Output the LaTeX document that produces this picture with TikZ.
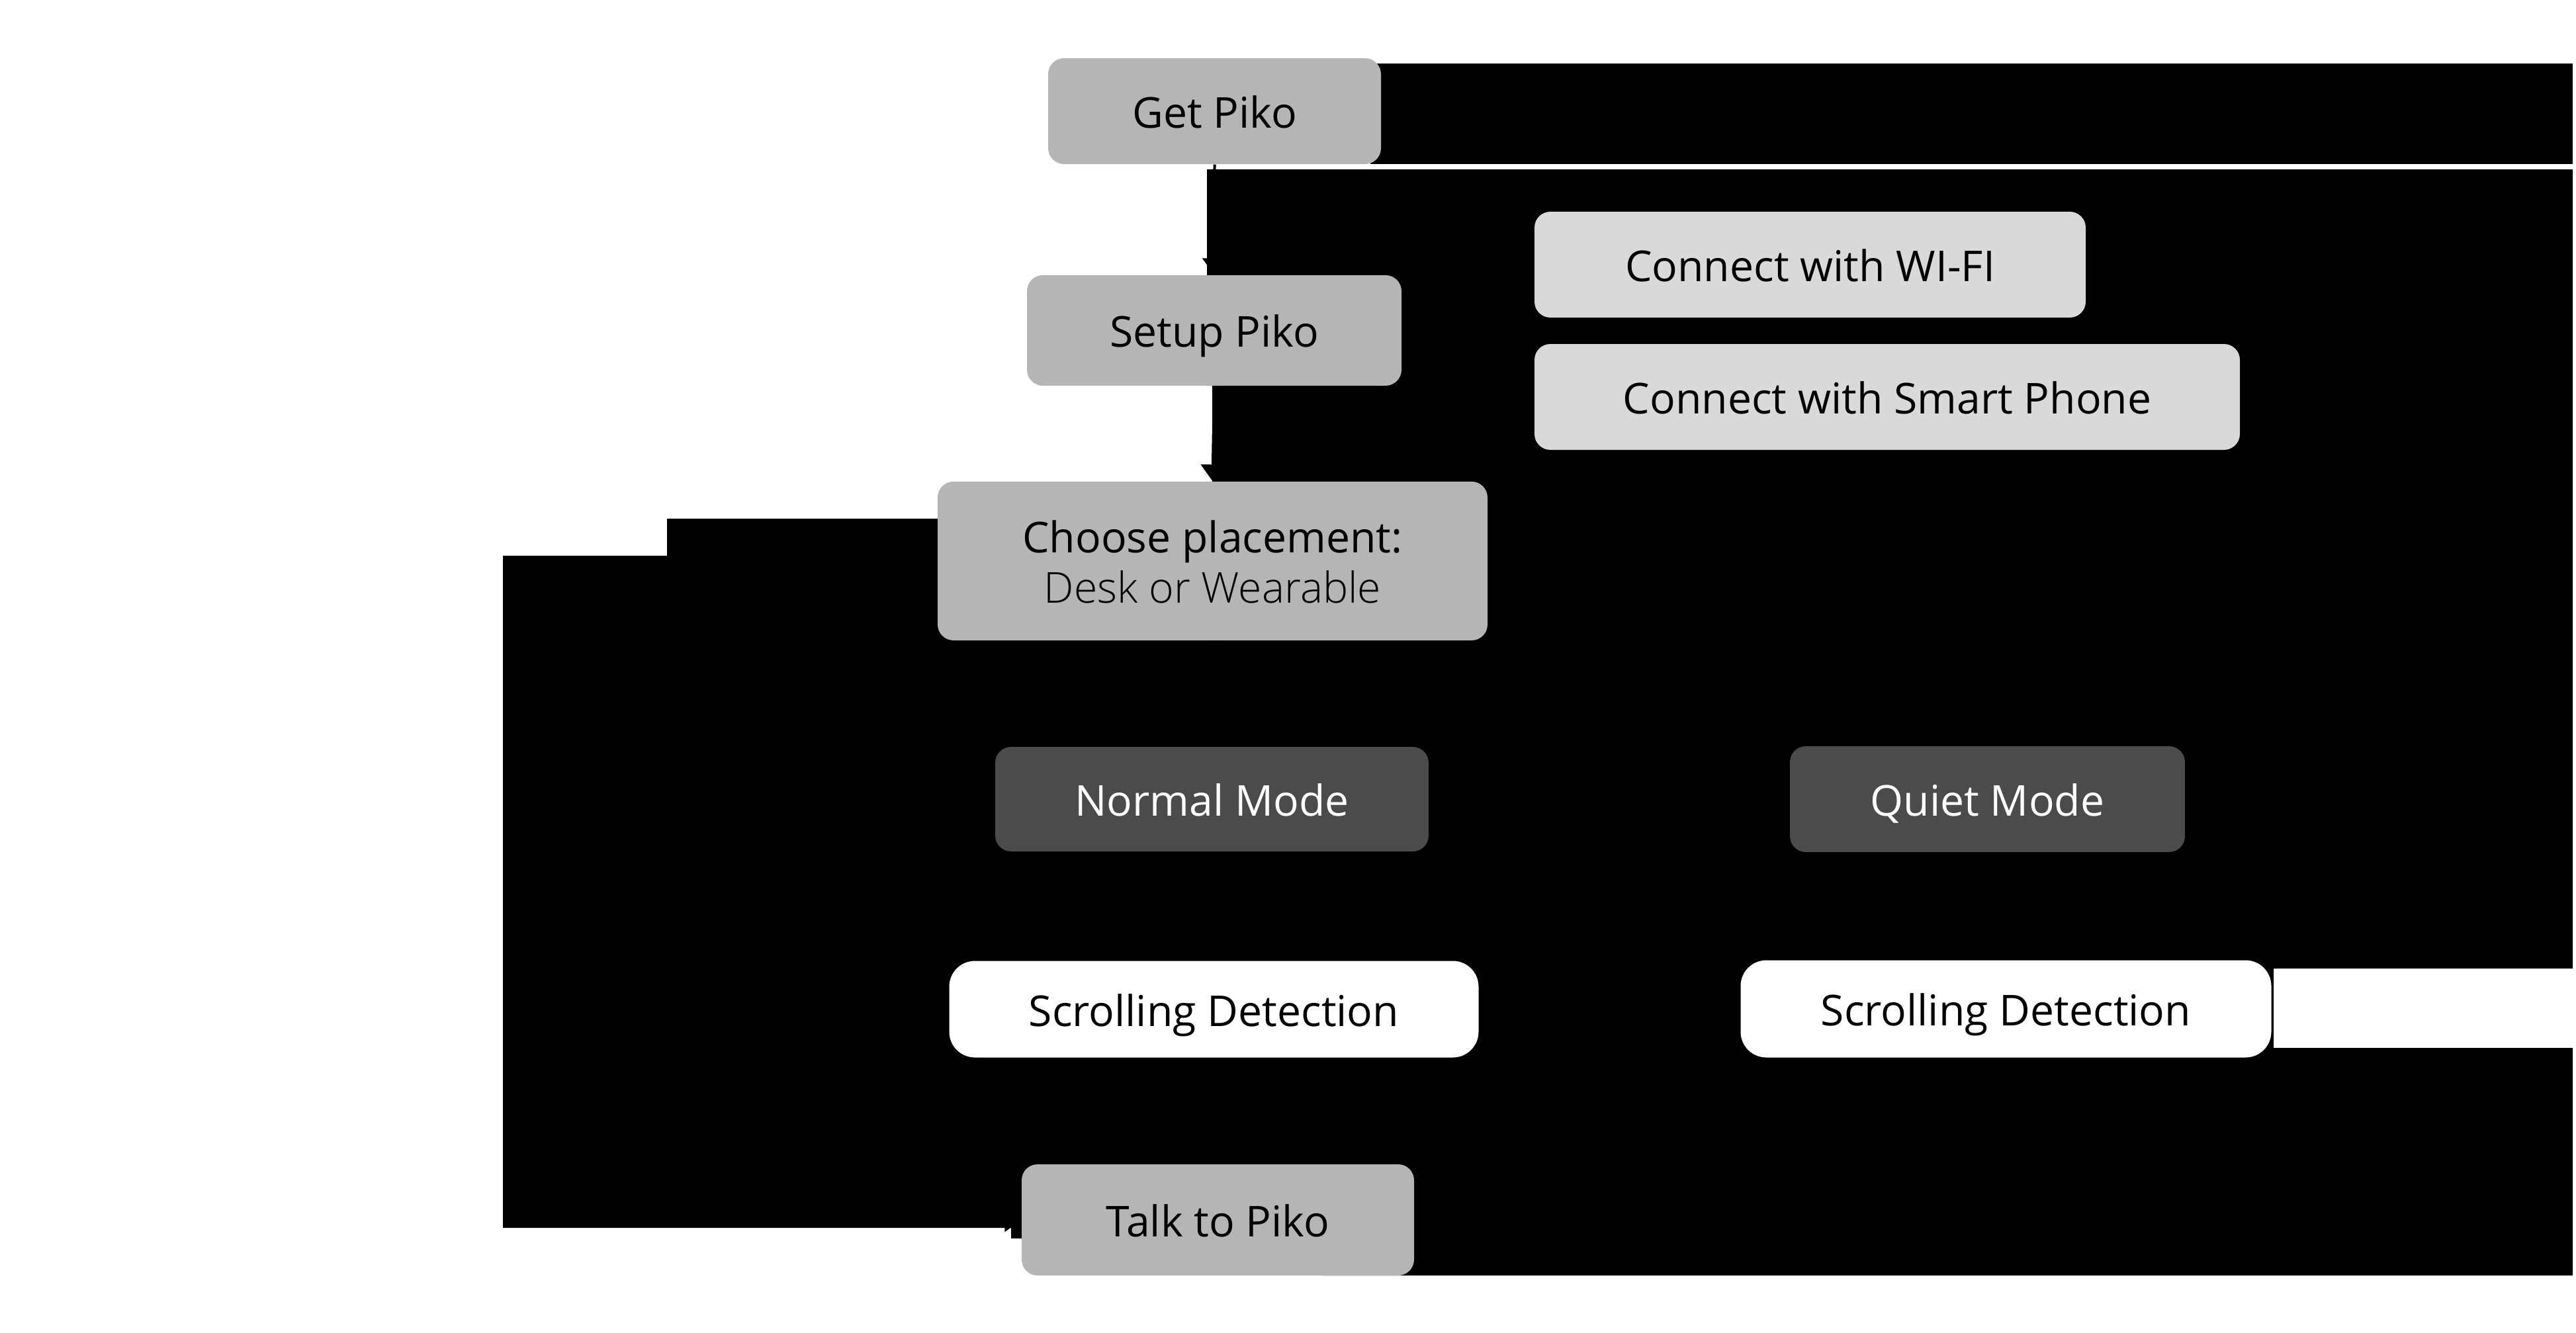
\documentclass[tikz,border=0pt]{standalone}
\usepackage{fontspec}
\setmainfont{Open Sans}
\newfontfamily\lightfont{Open Sans Light}
\usetikzlibrary{arrows.meta}
\definecolor{boxgray}{HTML}{B5B5B5}
\definecolor{boxlight}{HTML}{D9D9D9}
\definecolor{boxdark}{HTML}{4B4B4B}
\tikzset{
  flowbox/.style={rectangle, rounded corners=0.24cm, inner sep=0pt, align=center,
    font=\fontsize{18.3pt}{21.6pt}\selectfont, text height=14.5pt, text depth=0pt},
  graybox/.style={flowbox, fill=boxgray, text=black},
  lightbox/.style={flowbox, fill=boxlight, text=black},
  darkbox/.style={flowbox, fill=boxdark, text=white},
  whitebox/.style={flowbox, fill=white, draw=black, line width=0.03cm, rounded corners=0.4cm},
  link/.style={draw=black, line width=0.04cm, -{Triangle[length=0.25cm,width=0.36cm]}},
  blackfield/.style={fill=black, draw=none}
}
\begin{document}
\begin{tikzpicture}
\useasboundingbox (0,0) rectangle (38.93,-20.14);
\fill[white] (0,0) rectangle (38.93,-20.14);
% black field
\path[blackfield] (20.71,-0.96) rectangle (38.88,-2.48);
\path[blackfield] (18.24,-2.56) -- (38.88,-2.56) -- (38.88,-14.64) -- (34.36,-14.64)
  -- (34.36,-15.84) -- (38.88,-15.84) -- (38.88,-19.28) -- (20.00,-19.28)
  -- (20.00,-18.72) -- (15.28,-18.72) -- (15.28,-18.56) -- (7.60,-18.56)
  -- (7.60,-8.40) -- (10.08,-8.40) -- (10.08,-7.84) -- (14.40,-7.84)
  -- (14.40,-7.35) -- (18.32,-7.35) -- (18.32,-5.83) -- (18.24,-5.83) -- cycle;
% nodes
\node[graybox, minimum width=5.03cm, minimum height=1.60cm] (get) at (18.355,-1.68) {Get Piko};
\node[graybox, minimum width=5.66cm, minimum height=1.67cm] (setup) at (18.35,-4.995) {Setup Piko};
\node[lightbox, minimum width=8.33cm, minimum height=1.60cm] (wifi) at (27.355,-4.00) {Connect with WI-FI};
\node[lightbox, minimum width=10.66cm, minimum height=1.60cm] (phone) at (28.52,-6.00) {Connect with Smart Phone};
\node[graybox, minimum width=8.31cm, minimum height=2.40cm, text height=36pt] (choose) at (18.325,-8.48) {Choose placement:\\{\lightfont Desk or Wearable}};
\node[darkbox, minimum width=6.55cm, minimum height=1.58cm] (normal) at (18.315,-12.08) {Normal Mode};
\node[darkbox, minimum width=5.97cm, minimum height=1.60cm] (quiet) at (30.035,-12.08) {Quiet Mode};
\node[whitebox, minimum width=8.03cm, minimum height=1.49cm] (scrollL) at (18.345,-15.255) {Scrolling Detection};
\node[whitebox, minimum width=8.05cm, minimum height=1.50cm] (scrollR) at (30.315,-15.25) {Scrolling Detection};
\node[graybox, minimum width=5.93cm, minimum height=1.68cm] (talk) at (18.405,-18.44) {Talk to Piko};
% connectors
\draw[link] (get.south) -- (setup.north);
\draw[link] (setup.east) -- ++(1.0,0) |- (wifi.west);
\draw[link] (setup.east) -- ++(1.0,0) |- (phone.west);
\draw[link] (setup.south) -- (choose.north);
\draw[link] (choose.south) -- (normal.north);
\draw[link] (normal.east) -- (quiet.west);
\draw[link] (normal.south) -- (scrollL.north);
\draw[link] (quiet.south) -- (quiet.south |- scrollR.north);
\draw[link] (scrollL.south) -- (scrollL.south |- talk.north);
\coordinate (loopleft) at (7.72,-8.48);
\draw[link] (choose.west) -- (loopleft) |- (talk.west);
\draw[link] (scrollR.south) |- (talk.east);
\end{tikzpicture}
\end{document}
